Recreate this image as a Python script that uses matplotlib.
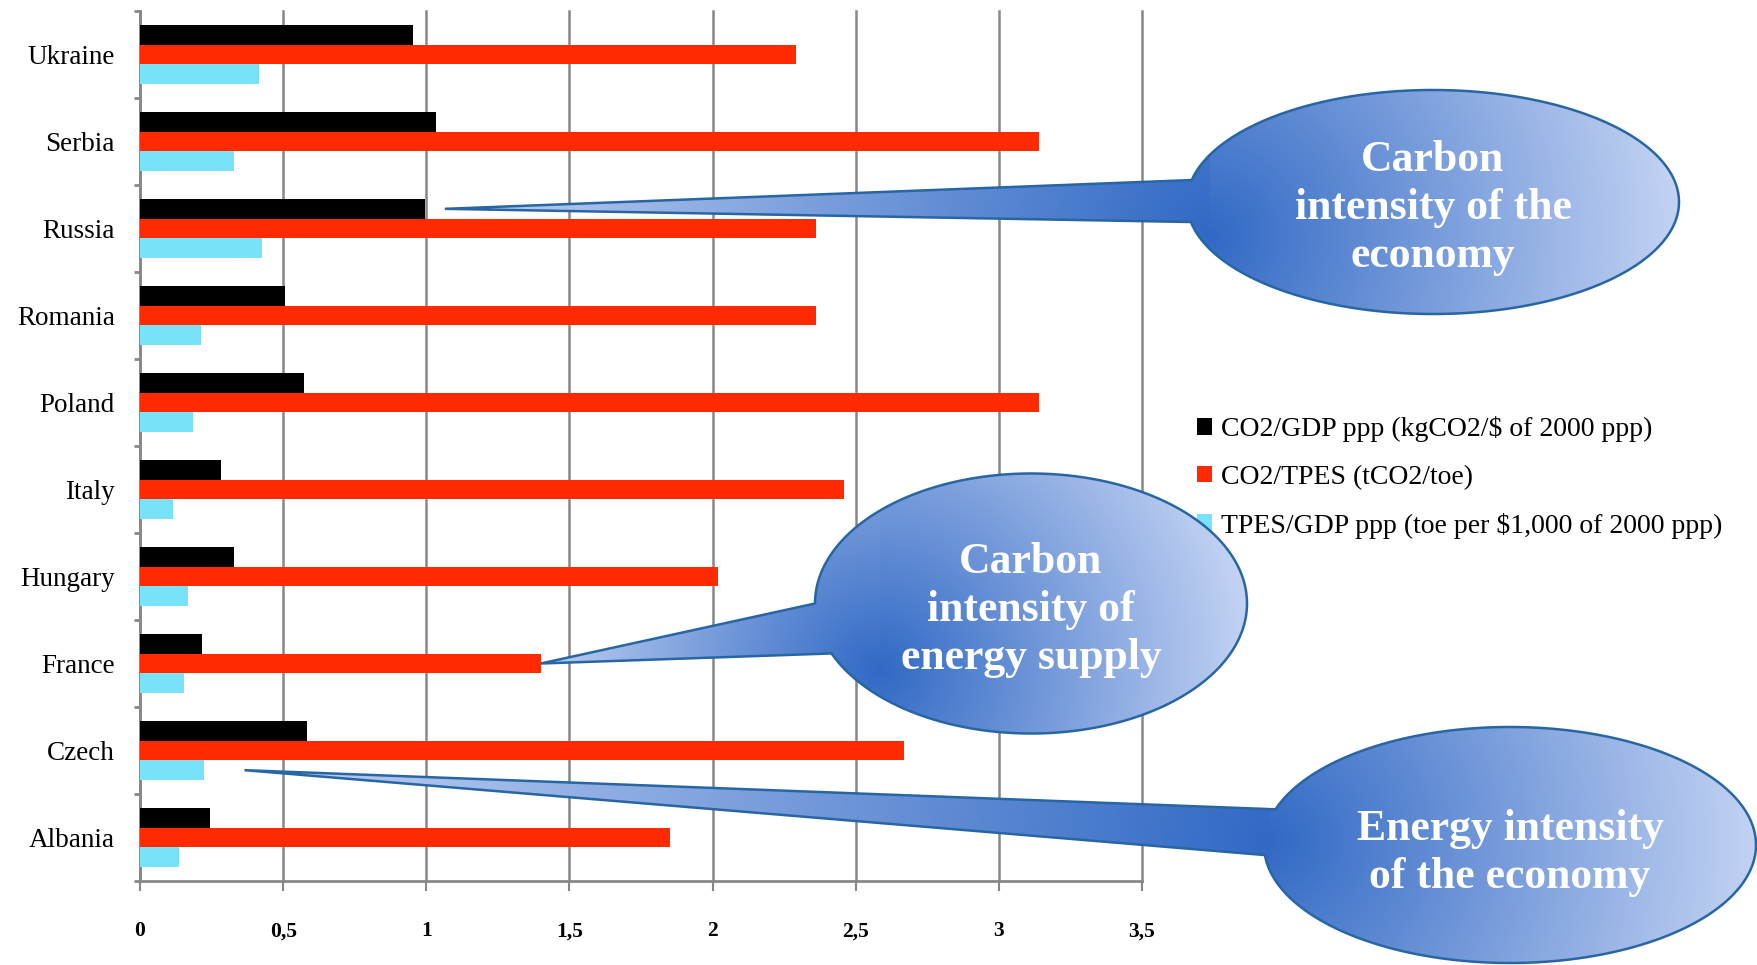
import numpy as np
import matplotlib.pyplot as plt
from matplotlib.path import Path
from matplotlib.patches import PathPatch
from matplotlib.colors import to_rgb

plt.rcParams['font.family'] = ['Liberation Serif', 'DejaVu Serif']

countries = ['Ukraine', 'Serbia', 'Russia', 'Romania', 'Poland',
             'Italy', 'Hungary', 'France', 'Czech', 'Albania']
co2_gdp = [0.955, 1.035, 0.995, 0.505, 0.572, 0.283, 0.33, 0.217, 0.583, 0.246]
co2_tpes = [2.29, 3.14, 2.36, 2.36, 3.14, 2.46, 2.02, 1.40, 2.67, 1.85]
tpes_gdp = [0.414, 0.33, 0.425, 0.214, 0.185, 0.115, 0.168, 0.155, 0.225, 0.136]
series_labels = [r'CO2/GDP ppp (kgCO2/\$ of 2000 ppp)',
                 'CO2/TPES (tCO2/toe)',
                 r'TPES/GDP ppp (toe per \$1,000 of 2000 ppp)']
series_colors = ['#000000', '#ff2a00', '#78e2f8']
xticks = [0, 0.5, 1, 1.5, 2, 2.5, 3, 3.5]
xtick_labels = ['0', '0,5', '1', '1,5', '2', '2,5', '3', '3,5']

W, H = 1758, 965
fig = plt.figure(figsize=(W / 100, H / 100), dpi=100, facecolor='white')
ax = fig.add_axes([140 / W, 84 / H, 1002 / W, 870 / H])

pos = np.arange(len(countries))
h = 0.226
grey = '#878787'
bars = []
for k, (vals, col, lab) in enumerate(zip([co2_gdp, co2_tpes, tpes_gdp],
                                         series_colors, series_labels)):
    bars.append(ax.barh(pos + (k - 1) * h, vals, height=h, color=col,
                        label=lab, zorder=3))

ax.set_xlim(0, 3.5)
ax.set_ylim(len(countries) - 0.5, -0.5)
ax.set_xticks(xticks)
ax.set_xticklabels(xtick_labels, fontsize=15.5, fontweight='bold')
ax.set_yticks(pos)
ax.set_yticklabels(countries, fontsize=19.5)
ax.set_yticks(np.arange(-0.5, len(countries)), minor=True)
ax.tick_params(axis='y', which='major', length=0, pad=18)
ax.tick_params(axis='y', which='minor', length=4, width=2, color=grey)
ax.tick_params(axis='x', length=7, width=1.5, color=grey, pad=22)
ax.grid(axis='x', color=grey, linewidth=1.8, zorder=0)
ax.set_axisbelow(True)
for gl in ax.get_xgridlines():
    gl.set_clip_on(False)
for s in ['top', 'right']:
    ax.spines[s].set_visible(False)
for s in ['left', 'bottom']:
    ax.spines[s].set_color(grey)
    ax.spines[s].set_linewidth(2)

fig.legend(handles=bars, loc='upper left', bbox_to_anchor=(1197 / W, 1 - 416 / H),
           frameon=False, fontsize=20, handlelength=0.55, handleheight=0.55,
           handletextpad=0.3, labelspacing=0.82, borderpad=0, borderaxespad=0)

# speech-bubble callouts, drawn in pixel space on top of everything
ov = fig.add_axes([0, 0, 1, 1])
ov.set_zorder(10)
ov.axis('off')

yy, xx = np.mgrid[0:H, 0:W] + 0.5
dark = np.array(to_rgb('#3169c5'))
light = np.array(to_rgb('#c6d5f4'))


def to_px(x, y):
    return ax.transData.transform((x, y))


def bubble(cx, cy, rx, ry, a0, a1, tip, shade, r_left, r_right, text, ty):
    th = np.radians(np.linspace(a0, a1, 300))
    pts = np.column_stack([cx + rx * np.cos(th), cy + ry * np.sin(th)])
    pts = np.vstack([pts, tip, pts[0]])
    path = Path(pts, closed=True)
    clip = PathPatch(path, facecolor='none', edgecolor='none')
    ov.add_patch(clip)
    dx = xx - shade[0]
    dy = yy - shade[1]
    r = np.where(dx < 0, r_left, r_right)
    t = np.clip(np.hypot(dx, dy) / r, 0, 1)[..., None]
    img = dark + (light - dark) * t
    im = ov.imshow(img, extent=(0, W, 0, H), origin='lower', aspect='auto',
                   interpolation='bilinear')
    im.set_clip_path(clip)
    ov.add_patch(PathPatch(path, facecolor='none', edgecolor='#2766a3',
                           linewidth=1.8))
    ov.text(cx, ty, text, color='white', fontsize=31.5, fontweight='bold',
            ha='center', va='center', linespacing=1.27)


tip1 = to_px(co2_gdp[2] + 0.07, pos[2] - h)
tip2 = to_px(co2_tpes[7], pos[7])
tip3 = to_px(tpes_gdp[8] + 0.14, pos[8] + h)

bubble(1433, H - 202, 246, 112, 190.3, 528.7, tip1, (1210, H - 235), 800, 480,
       'Carbon\nintensity of the\neconomy', H - 208)
bubble(1031, H - 603.5, 216, 130, 202.6, 540, tip2, (880, H - 670), 360, 380,
       'Carbon\nintensity of\nenergy supply', H - 610)
bubble(1510, H - 845, 246, 118, 184.9, 522.4, tip3, (1270, H - 840), 1050, 500,
       'Energy intensity\nof the economy', H - 853)

ov.set_xlim(0, W)
ov.set_ylim(0, H)

fig.savefig('out.png', dpi=100, facecolor='white')
